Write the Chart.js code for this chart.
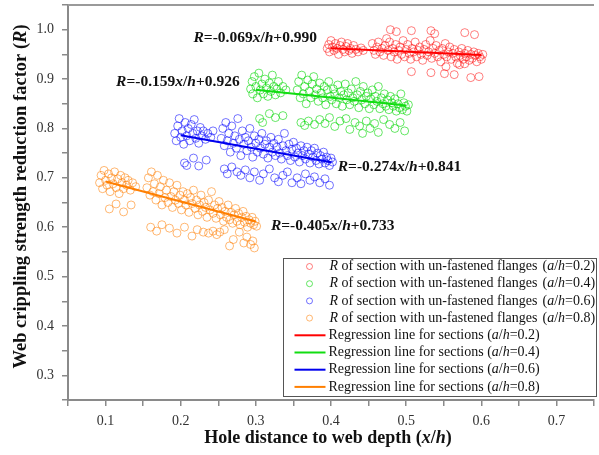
<!DOCTYPE html>
<html>
<head>
<meta charset="utf-8">
<script src="https://cdn.jsdelivr.net/npm/chart.js@4.4.0/dist/chart.umd.min.js"></script>
<style>
  body { margin: 0; background: #fff; }
  canvas { display: block; }
</style>
</head>
<body>
<canvas id="chart" width="599" height="455"></canvas>
<script>
// R values for sections with un-fastened flanges, one list per a/h ratio: [x/h, R]
const pointsA02 = [
  [0.395,0.962],[0.397,0.970],[0.398,0.955],[0.400,0.978],[0.402,0.965],[0.404,0.958],[0.406,0.972],[0.408,0.962],
  [0.410,0.950],[0.412,0.968],[0.414,0.975],[0.416,0.960],[0.418,0.955],[0.420,0.966],[0.422,0.972],[0.424,0.958],
  [0.426,0.962],[0.428,0.952],[0.430,0.968],[0.433,0.960],[0.436,0.955],[0.440,0.963],[0.443,0.958],
  [0.455,0.972],[0.457,0.958],[0.459,0.950],[0.461,0.965],[0.463,0.975],[0.465,0.955],[0.468,0.962],[0.470,0.948],
  [0.472,0.968],[0.474,0.982],[0.476,0.958],[0.478,0.975],[0.480,0.945],[0.482,0.962],[0.484,0.955],[0.486,0.970],
  [0.488,0.940],[0.490,0.958],[0.492,0.965],[0.494,0.950],[0.496,0.978],[0.498,0.945],[0.500,0.960],[0.502,0.970],
  [0.504,0.952],[0.506,0.940],[0.508,0.962],[0.510,0.955],[0.512,0.975],[0.514,0.945],[0.516,0.958],[0.518,0.965],
  [0.520,0.950],[0.522,0.938],[0.524,0.960],[0.526,0.970],[0.528,0.948],[0.530,0.955],[0.532,0.978],[0.534,0.942],
  [0.536,0.962],[0.538,0.952],[0.540,0.968],[0.542,0.945],[0.544,0.958],[0.546,0.935],[0.548,0.962],[0.550,0.950],
  [0.552,0.972],[0.554,0.945],[0.556,0.955],[0.558,0.965],[0.560,0.940],[0.562,0.952],[0.564,0.960],[0.566,0.945],
  [0.568,0.932],[0.570,0.955],[0.572,0.948],[0.574,0.962],[0.576,0.940],[0.578,0.952],[0.580,0.945],[0.582,0.958],
  [0.584,0.938],[0.586,0.950],[0.588,0.942],[0.590,0.955],[0.592,0.948],[0.594,0.935],[0.596,0.952],[0.598,0.945],
  [0.600,0.940],[0.602,0.950],
  [0.479,1.000],[0.487,0.996],[0.507,0.998],[0.533,0.998],[0.538,0.992],[0.578,0.994],[0.591,0.990],
  [0.507,0.915],[0.533,0.913],[0.551,0.911],[0.564,0.909],[0.586,0.903],[0.597,0.905],[0.571,0.929],[0.578,0.931],[0.553,0.925]
];
const pointsA04 = [
  [0.293,0.880],[0.295,0.895],[0.296,0.870],[0.298,0.905],[0.300,0.885],[0.302,0.862],[0.304,0.912],[0.306,0.878],
  [0.308,0.890],[0.310,0.870],[0.312,0.900],[0.314,0.882],[0.316,0.865],[0.318,0.892],[0.320,0.875],[0.322,0.908],
  [0.324,0.885],[0.326,0.868],[0.328,0.880],[0.330,0.895],[0.333,0.872],[0.336,0.885],[0.340,0.878],
  [0.305,0.820],[0.309,0.812],[0.318,0.830],[0.326,0.822],[0.336,0.826],
  [0.355,0.878],[0.357,0.895],[0.359,0.862],[0.361,0.908],[0.363,0.870],[0.365,0.885],[0.367,0.850],[0.369,0.898],
  [0.371,0.875],[0.373,0.862],[0.375,0.890],[0.377,0.905],[0.379,0.868],[0.381,0.880],[0.383,0.855],[0.385,0.892],
  [0.387,0.872],[0.389,0.862],[0.391,0.885],[0.393,0.848],[0.395,0.878],[0.397,0.895],[0.399,0.865],[0.401,0.858],
  [0.403,0.880],[0.405,0.870],[0.407,0.850],[0.409,0.888],[0.411,0.862],[0.413,0.875],[0.415,0.845],[0.417,0.868],
  [0.419,0.890],[0.421,0.858],[0.423,0.872],[0.425,0.848],[0.427,0.880],[0.429,0.862],[0.431,0.855],[0.433,0.895],
  [0.435,0.868],[0.437,0.842],[0.439,0.875],[0.441,0.858],[0.443,0.885],[0.445,0.850],[0.447,0.865],[0.449,0.872],
  [0.451,0.840],[0.453,0.860],[0.455,0.878],[0.457,0.848],[0.459,0.865],[0.461,0.855],[0.463,0.885],[0.465,0.840],
  [0.467,0.862],[0.469,0.850],[0.471,0.870],[0.473,0.845],[0.475,0.858],[0.477,0.838],[0.479,0.865],[0.481,0.852],
  [0.483,0.845],[0.485,0.860],[0.487,0.835],[0.489,0.850],[0.491,0.842],[0.493,0.870],[0.495,0.838],[0.497,0.852],
  [0.499,0.845],[0.501,0.835],[0.503,0.848],
  [0.360,0.812],[0.365,0.806],[0.370,0.815],[0.378,0.808],[0.385,0.818],[0.392,0.810],[0.398,0.822],[0.405,0.804],
  [0.412,0.815],[0.420,0.820],[0.425,0.798],[0.432,0.812],[0.438,0.805],[0.442,0.790],[0.447,0.815],[0.452,0.800],
  [0.458,0.810],[0.463,0.792],[0.470,0.818],[0.478,0.808],[0.485,0.800],[0.492,0.812],[0.498,0.795]
];
const pointsA06 = [
  [0.192,0.790],[0.194,0.775],[0.196,0.805],[0.198,0.820],[0.200,0.782],[0.202,0.795],[0.204,0.768],[0.206,0.812],
  [0.208,0.785],[0.210,0.800],[0.212,0.775],[0.214,0.808],[0.216,0.790],[0.218,0.818],[0.220,0.780],[0.222,0.795],
  [0.224,0.770],[0.226,0.802],[0.228,0.785],[0.230,0.795],[0.233,0.778],[0.236,0.790],[0.240,0.782],[0.243,0.795],
  [0.205,0.730],[0.208,0.725],[0.217,0.740],[0.224,0.724],[0.234,0.736],
  [0.254,0.780],[0.256,0.800],[0.258,0.765],[0.260,0.812],[0.262,0.775],[0.264,0.790],[0.266,0.752],[0.268,0.805],
  [0.270,0.770],[0.272,0.785],[0.274,0.760],[0.276,0.820],[0.278,0.778],[0.280,0.745],[0.282,0.795],[0.284,0.768],
  [0.286,0.782],[0.288,0.755],[0.290,0.775],[0.292,0.800],[0.294,0.762],[0.296,0.742],[0.298,0.785],[0.300,0.770],
  [0.302,0.752],[0.304,0.778],[0.306,0.760],[0.308,0.790],[0.310,0.748],[0.312,0.768],[0.314,0.775],[0.316,0.740],
  [0.318,0.762],[0.320,0.782],[0.322,0.752],[0.324,0.770],[0.326,0.745],[0.328,0.762],[0.330,0.778],[0.332,0.750],
  [0.334,0.738],[0.336,0.765],[0.338,0.790],[0.340,0.755],[0.342,0.745],[0.344,0.768],[0.346,0.735],[0.348,0.758],
  [0.350,0.772],[0.352,0.742],[0.354,0.760],[0.356,0.750],[0.358,0.732],[0.360,0.765],[0.362,0.745],[0.364,0.755],
  [0.366,0.738],[0.368,0.762],[0.370,0.748],[0.372,0.730],[0.374,0.755],[0.376,0.742],[0.378,0.760],[0.380,0.735],
  [0.382,0.750],[0.384,0.728],[0.386,0.745],[0.388,0.738],[0.390,0.752],[0.392,0.730],[0.394,0.742],[0.396,0.735],
  [0.398,0.725],[0.400,0.740],[0.402,0.732],
  [0.258,0.718],[0.262,0.708],[0.268,0.722],[0.275,0.712],[0.280,0.705],[0.286,0.716],[0.292,0.700],[0.298,0.712],
  [0.305,0.695],[0.310,0.708],[0.318,0.718],[0.325,0.700],[0.330,0.692],[0.336,0.705],[0.342,0.712],[0.348,0.690],
  [0.355,0.700],[0.360,0.688],[0.366,0.708],[0.372,0.695],[0.378,0.702],[0.385,0.690],[0.392,0.698],[0.398,0.685]
];
const pointsA08 = [
  [0.092,0.690],[0.094,0.705],[0.096,0.678],[0.098,0.715],[0.100,0.695],[0.102,0.685],[0.104,0.708],[0.106,0.672],
  [0.108,0.700],[0.110,0.688],[0.112,0.712],[0.114,0.680],[0.116,0.698],[0.118,0.668],[0.120,0.705],[0.122,0.690],
  [0.124,0.678],[0.126,0.700],[0.128,0.685],[0.130,0.695],[0.133,0.675],[0.136,0.690],[0.140,0.682],
  [0.105,0.637],[0.114,0.647],[0.124,0.631],[0.134,0.645],
  [0.155,0.680],[0.157,0.700],[0.159,0.665],[0.161,0.712],[0.163,0.672],[0.165,0.688],[0.167,0.655],[0.169,0.705],
  [0.171,0.668],[0.173,0.682],[0.175,0.645],[0.177,0.695],[0.179,0.660],[0.181,0.675],[0.183,0.650],[0.185,0.690],
  [0.187,0.662],[0.189,0.640],[0.191,0.672],[0.193,0.655],[0.195,0.685],[0.197,0.648],[0.199,0.665],[0.201,0.635],
  [0.203,0.672],[0.205,0.655],[0.207,0.645],[0.209,0.668],[0.211,0.630],[0.213,0.660],[0.215,0.648],[0.217,0.675],
  [0.219,0.638],[0.221,0.655],[0.223,0.625],[0.225,0.645],[0.227,0.665],[0.229,0.632],[0.231,0.650],[0.233,0.640],
  [0.235,0.620],[0.237,0.655],[0.239,0.635],[0.241,0.672],[0.243,0.628],[0.245,0.645],[0.247,0.618],[0.249,0.638],
  [0.251,0.652],[0.253,0.625],[0.255,0.640],[0.257,0.612],[0.259,0.632],[0.261,0.620],[0.263,0.645],[0.265,0.615],
  [0.267,0.630],[0.269,0.608],[0.271,0.625],[0.273,0.638],[0.275,0.612],[0.277,0.628],[0.279,0.605],[0.281,0.620],
  [0.283,0.632],[0.285,0.610],[0.287,0.622],[0.289,0.600],[0.291,0.615],[0.293,0.608],[0.295,0.620],[0.297,0.605],
  [0.299,0.612],[0.301,0.602],
  [0.160,0.600],[0.168,0.592],[0.175,0.605],[0.185,0.598],[0.195,0.588],[0.205,0.600],[0.215,0.582],[0.222,0.595],
  [0.230,0.590],[0.237,0.588],[0.243,0.592],[0.248,0.585],[0.252,0.590],[0.258,0.595],[0.265,0.562],[0.270,0.575],
  [0.278,0.590],[0.284,0.568],[0.288,0.580],[0.293,0.565],[0.296,0.572],[0.298,0.558]
];

// regression R = slope * x/h + intercept, one per a/h ratio
const ratios = ['0.2', '0.4', '0.6', '0.8'];
const slopes = [-0.069, -0.159, -0.274, -0.405];
const intercepts = [0.990, 0.926, 0.841, 0.733];
const lineFrom = [0.4, 0.3, 0.2, 0.1];
const lineTo = [0.6, 0.5, 0.4, 0.3];

const pointColors = ['rgba(255,0,0,0.5)', 'rgba(0,215,0,0.6)', 'rgba(0,0,255,0.55)', 'rgba(255,125,0,0.55)'];
const lineColors = ['#ff0000', '#11dd11', '#0000ee', '#ff7f00'];
const serif = '"Liberation Serif", "Times New Roman", serif';

const allPoints = [pointsA02, pointsA04, pointsA06, pointsA08];

var datasets = [];
allPoints.forEach(function(pts, i) {
    datasets.push({
        type: 'scatter',
        data: pts.map(p => ({ x: p[0], y: p[1] })),
        borderColor: pointColors[i],
        backgroundColor: 'rgba(255,255,255,0)',
        pointRadius: 4,
        pointBorderWidth: 1,
        order: 2
    });
});
ratios.forEach(function(r, i) {
    datasets.push({
        type: 'line',
        data: [lineFrom[i], lineTo[i]].map(x => ({ x: x, y: slopes[i] * x + intercepts[i] })),
        borderColor: lineColors[i],
        borderWidth: 2,
        pointRadius: 0,
        fill: false,
        order: 1
    });
});

// text made of plain and italic pieces: [text, isItalic]
function setFont(ctx, italic, weight, size) {
    ctx.font = (italic ? 'italic ' : '') + weight + ' ' + size + 'px ' + serif;
}
function richWidth(ctx, parts, size, weight) {
    var w = 0;
    parts.forEach(function(p) { setFont(ctx, p[1], weight, size); w += ctx.measureText(p[0]).width; });
    return w;
}
function drawRich(ctx, parts, x, y, size, weight, align) {
    var cx = align === 'center' ? x - richWidth(ctx, parts, size, weight) / 2 : x;
    ctx.textAlign = 'left';
    ctx.textBaseline = 'middle';
    parts.forEach(function(p) {
        setFont(ctx, p[1], weight, size);
        ctx.fillText(p[0], cx, y);
        cx += ctx.measureText(p[0]).width;
    });
}
function equationParts(i) {
    return [['R', 1], ['=' + slopes[i].toFixed(3), 0], ['x', 1], ['/', 0], ['h', 1], ['+' + intercepts[i].toFixed(3), 0]];
}
function ratioParts(i) {
    return [['(', 0], ['a', 1], ['/', 0], ['h', 1], ['=' + ratios[i] + ')', 0]];
}

const decorations = {
    id: 'decorations',
    afterDraw(chart) {
        const ctx = chart.ctx;
        const area = chart.chartArea;
        const xs = chart.scales.x, ys = chart.scales.y;
        ctx.save();

        // frame line along the top
        ctx.strokeStyle = '#9a9a9a';
        ctx.lineWidth = 2;
        ctx.beginPath();
        ctx.moveTo(area.left, area.top);
        ctx.lineTo(area.right, area.top);
        ctx.stroke();

        // regression equations next to each cloud
        const eqPos = [[0.217, 0.984], [0.114, 0.895], [0.409, 0.722], [0.320, 0.602]];
        ctx.fillStyle = '#111';
        eqPos.forEach(function(p, i) {
            drawRich(ctx, equationParts(i), xs.getPixelForValue(p[0]), ys.getPixelForValue(p[1]), 15.5, 'bold', 'left');
        });

        // legend box
        const lx = 283.5, ly = 258.5, lw = 313, lh = 138, rowH = 17.2;
        ctx.fillStyle = '#fff';
        ctx.fillRect(lx, ly, lw, lh);
        ctx.strokeStyle = '#555';
        ctx.lineWidth = 1;
        ctx.strokeRect(lx, ly, lw, lh);
        for (var i = 0; i < 8; i++) {
            const k = i % 4;
            const cy = ly + 8 + i * rowH;
            ctx.fillStyle = '#111';
            if (i < 4) {
                ctx.strokeStyle = pointColors[k];
                ctx.beginPath();
                ctx.arc(lx + 26, cy, 3, 0, Math.PI * 2);
                ctx.stroke();
                ctx.fillStyle = '#111';
                drawRich(ctx, [['R', 1], [' of section with un-fastened flanges', 0]], lx + 46, cy, 14, 'normal', 'left');
                drawRich(ctx, ratioParts(k), lx + 259, cy, 14, 'normal', 'left');
            } else {
                ctx.strokeStyle = lineColors[k];
                ctx.lineWidth = 2;
                ctx.beginPath();
                ctx.moveTo(lx + 11, cy);
                ctx.lineTo(lx + 42, cy);
                ctx.stroke();
                ctx.lineWidth = 1;
                drawRich(ctx, [['Regression line for sections ', 0]].concat(ratioParts(k)), lx + 45, cy, 14, 'normal', 'left');
            }
        }

        // axis titles
        ctx.fillStyle = '#111';
        drawRich(ctx, [['Hole distance to web depth (', 0], ['x', 1], ['/', 0], ['h', 1], [')', 0]],
            (area.left + area.right) / 2 - 3, 438, 18, 'bold', 'center');
        ctx.translate(21, (area.top + area.bottom) / 2 - 6);
        ctx.rotate(-Math.PI / 2);
        drawRich(ctx, [['Web crippling strength reduction factor (', 0], ['R', 1], [')', 0]], 0, 0, 18.5, 'bold', 'center');
        ctx.restore();
    }
};

function tickLabel(v) {
    return Math.abs(v * 10 - Math.round(v * 10)) < 1e-6 ? v.toFixed(1) : '';
}

const axisStyle = {
    border: { color: '#8a8a8a', width: 2 },
    grid: { drawOnChartArea: false, tickLength: 6, color: '#8a8a8a', lineWidth: 1.5 }
};

new Chart(document.getElementById('chart').getContext('2d'), {
    type: 'scatter',
    data: { datasets: datasets },
    options: {
        responsive: false,
        animation: false,
        layout: { padding: { top: 5, right: 0, left: 0, bottom: 0 } },
        plugins: { legend: { display: false }, tooltip: { enabled: false } },
        scales: {
            x: {
                type: 'linear', min: 0.05, max: 0.75,
                border: axisStyle.border, grid: axisStyle.grid,
                ticks: { stepSize: 0.05, autoSkip: false, maxRotation: 0, padding: 7, color: '#333',
                         font: { family: serif, size: 14 }, callback: tickLabel },
                afterFit(scale) { scale.height = 55; scale.paddingLeft = 0; scale.paddingRight = 0; }
            },
            y: {
                type: 'linear', min: 0.25, max: 1.05,
                border: axisStyle.border, grid: axisStyle.grid,
                ticks: { stepSize: 0.05, autoSkip: false, padding: 8, color: '#333',
                         font: { family: serif, size: 14 }, callback: tickLabel },
                afterFit(scale) { scale.width = 68; scale.paddingTop = 0; scale.paddingBottom = 0; }
            }
        }
    },
    plugins: [decorations]
});
</script>
</body>
</html>
